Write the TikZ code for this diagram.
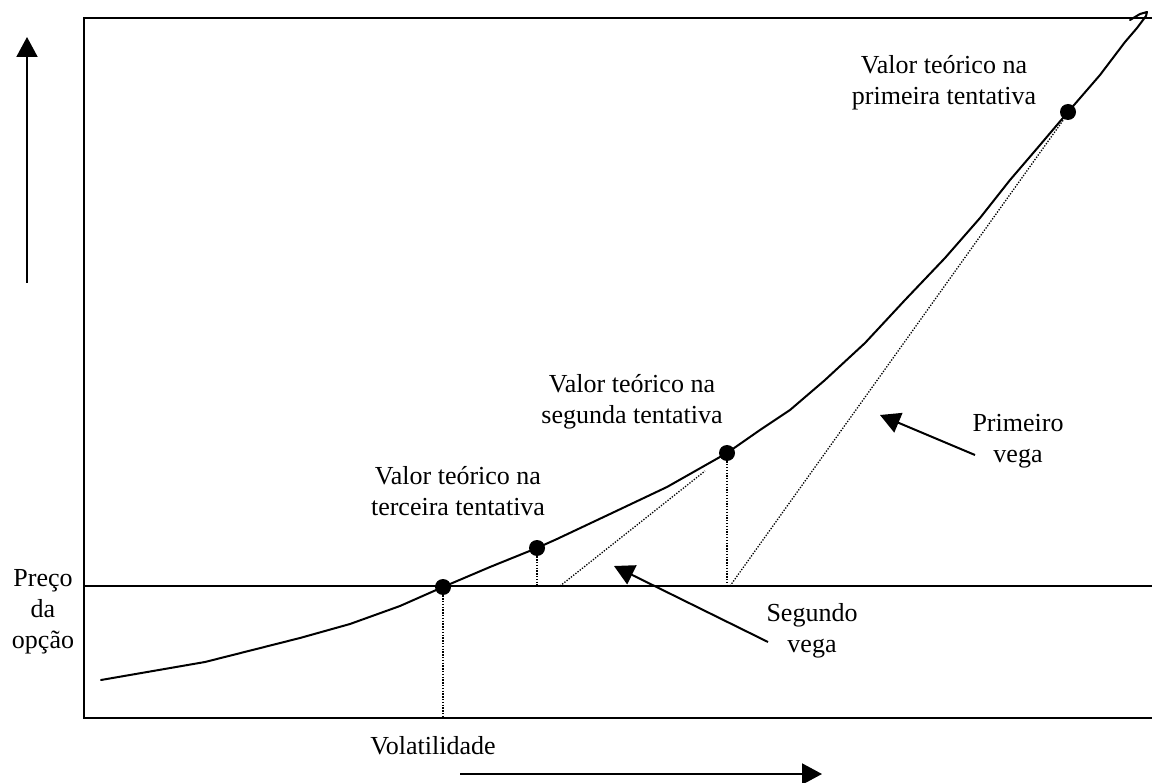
\documentclass[tikz,border=0pt]{standalone}
\usepackage{fontspec}
\setmainfont{Liberation Serif}
\usetikzlibrary{arrows.meta}
\begin{document}
\begin{tikzpicture}[x=1pt,y=-1pt,
  lbl/.style={inner sep=0pt, align=center, font=\fontsize{26}{31}\selectfont},
  frameline/.style={line width=2pt},
  curveline/.style={line width=2pt, line join=round, line cap=round},
  guide/.style={line width=1.3pt, dash pattern=on 1.3pt off 1.5pt},
  pointer/.style={line width=2pt, -{Triangle[length=20pt,width=21pt]}},
  dotmark/.style={circle, fill=black, inner sep=0pt, minimum size=16pt}]
\useasboundingbox (0,0) rectangle (1152,783);
% frame (open on the right)
\coordinate (ftr) at (1152,18);
\coordinate (ftl) at (84,18);
\coordinate (fbl) at (84,718);
\coordinate (fbr) at (1152,718);
\draw[frameline] (ftr) -- (ftl) -- (fbl) -- (fbr);
% option price level
\coordinate (pl) at (84,586);
\coordinate (pr) at (1152,586);
\draw[frameline] (pl) -- (pr);
% curve
\draw[curveline] (101,680) -- (205,662) -- (300,638) -- (350,624) -- (400,606) -- (443,587)
  -- (490,567) -- (537,548) -- (557,539) -- (610,514) -- (667,487) -- (727,453)
  -- (760,430) -- (790,410) -- (825,380) -- (865,343) -- (905,300) -- (945,258)
  -- (980,218) -- (1010,180) -- (1040,145) -- (1068,112) -- (1100,75) -- (1125,42)
  -- (1137,28) -- (1146,16) -- (1147,12) -- (1140,14) -- (1130,20);
% dots
\node[dotmark] (d3) at (443,587) {};
\node[dotmark] (d3b) at (537,548) {};
\node[dotmark] (d2) at (727,453) {};
\node[dotmark] (d1) at (1068,112) {};
% guides
\coordinate (g3) at (443,718);
\coordinate (g3b) at (537,586);
\coordinate (s2a) at (560,586);
\coordinate (s2b) at (705,471);
\coordinate (g2) at (727,586);
\coordinate (s1a) at (730,586);
\coordinate (s1b) at (1064,119);
\draw[guide] (d3.center) -- (g3);
\draw[guide] (d3b.center) -- (g3b);
\draw[guide] (s2a) -- (s2b);
\draw[guide] (d2.center) -- (g2);
\draw[guide] (s1a) -- (s1b);
% axis arrows
\coordinate (ya) at (27,283);
\coordinate (yb) at (27,37);
\draw[pointer] (ya) -- (yb);
\coordinate (xa) at (460,774);
\coordinate (xb) at (822,774);
\draw[pointer] (xa) -- (xb);
% labels
\node[lbl] (t1) at (944,83) {Valor teórico na\\primeira tentativa};
\node[lbl] (t2) at (632,402) {Valor teórico na\\segunda tentativa};
\node[lbl] (t3) at (458,491) {Valor teórico na\\terceira tentativa};
\node[lbl] (v1) at (1018,441) {Primeiro\\vega};
\node[lbl] (v2) at (812,631) {Segundo\\vega};
\node[lbl] (py) at (43,612) {Preço\\da\\opção};
\node[lbl] (px) at (433,746) {Volatilidade};
% vega pointers
\coordinate (p1a) at (975,455);
\coordinate (p1b) at (880,415);
\draw[pointer] (p1a) -- (p1b);
\coordinate (p2a) at (768,642);
\coordinate (p2b) at (614,566);
\draw[pointer] (p2a) -- (p2b);
\end{tikzpicture}
\end{document}
